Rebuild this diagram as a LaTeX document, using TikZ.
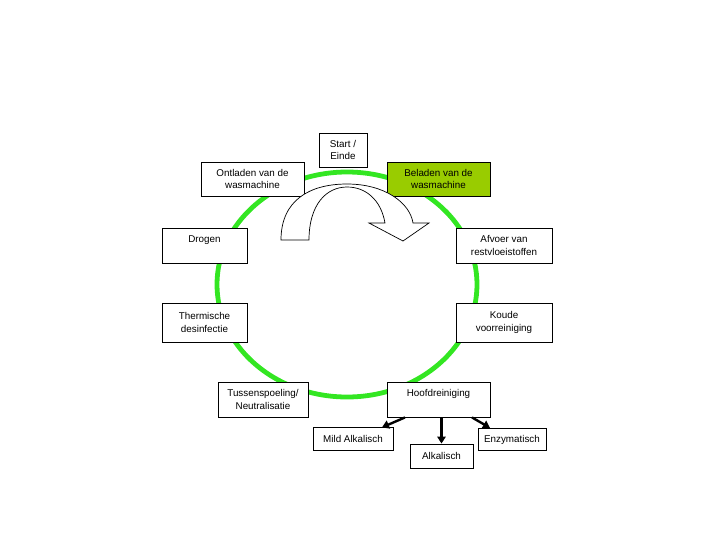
\documentclass[tikz,border=0pt]{standalone}
\usepackage{fontspec}
\setmainfont{Liberation Sans}
\usepackage{xcolor}
\definecolor{ringgreen}{HTML}{33E622}
\definecolor{loadgreen}{HTML}{99CC00}
\usetikzlibrary{positioning,arrows.meta}

\begin{document}
\begin{tikzpicture}[
  box/.style={draw, fill=white, line width=0.6pt, minimum height=0.85cm, inner sep=1pt, align=center, font=\fontsize{7}{8.7}\selectfont},
  leaf/.style={draw, fill=white, line width=0.6pt, minimum height=0.56cm, inner sep=1pt, align=center, font=\fontsize{7}{8.7}\selectfont},
  ring/.style={draw=ringgreen, line width=3.4pt},
  sub/.style={-{Triangle[length=5pt,width=6pt]}, line width=1.7pt},
  turn/.style={draw, fill=white, line width=0.5pt}]
  \useasboundingbox (0,0) rectangle (18,-13.5);
  \draw[ring] (8.675,-7.1125) ellipse [x radius=3.25cm, y radius=2.8125cm];
  \node[box, minimum width=1.2cm] (start) at (8.575,-3.75) {Start /\\Einde};
  \node[box, minimum width=2.575cm] (unload) at (6.3125,-4.475) {Ontladen van de\\wasmachine};
  \node[box, minimum width=2.575cm, fill=loadgreen] (load) at (10.9625,-4.475) {Beladen van de\\wasmachine};
  \node[box, minimum width=2.125cm, minimum height=0.875cm] (dry) at (5.1125,-6.1375) {Drogen\\\mbox{}};
  \node[box, minimum width=2.4cm, minimum height=0.875cm] (drain) at (12.6,-6.1375) {Afvoer van\\restvloeistoffen};
  \node[box, minimum width=2.125cm, minimum height=0.975cm] (therm) at (5.1125,-8.0625) {Thermische\\desinfectie};
  \node[box, minimum width=2.4cm, minimum height=0.975cm] (cold) at (12.6,-8.0625) {Koude\\voorreiniging};
  \node[box, minimum width=2.25cm, minimum height=0.875cm] (rinse) at (6.575,-9.9875) {Tussenspoeling/\\Neutralisatie};
  \node[box, minimum width=2.575cm, minimum height=0.875cm] (main) at (10.9625,-9.9875) {Hoofdreiniging\\\mbox{}};
  \node[leaf, minimum width=2cm] (mild) at (8.825,-10.975) {Mild Alkalisch};
  \node[leaf, minimum width=1.575cm, minimum height=0.6cm] (alk) at (11.0375,-11.4) {Alkalisch};
  \node[leaf, minimum width=1.7cm] (enz) at (12.8,-10.9875) {Enzymatisch};
  % curved block arrow
  \path[turn] (7.025,-6.0) .. controls (7.025,-5.0) and (7.75,-4.6) .. (8.675,-4.6)
    .. controls (9.625,-4.6) and (10.25,-5.075) .. (10.325,-5.575)
    -- (10.725,-5.575) -- (10.075,-6.025) -- (9.225,-5.575) -- (9.625,-5.575)
    .. controls (9.525,-5.0) and (9.15,-4.675) .. (8.675,-4.675)
    .. controls (8.15,-4.675) and (7.725,-5.125) .. (7.725,-6.0) -- cycle;
  \draw[sub] ([xshift=-0.8375cm]main.south) -- ([xshift=0.725cm]mild.north);
  \draw[sub] (alk.north |- main.south) -- (alk.north);
  \draw[sub] ([xshift=0.8375cm]main.south) -- ([xshift=-0.55cm]enz.north);
\end{tikzpicture}
\end{document}
